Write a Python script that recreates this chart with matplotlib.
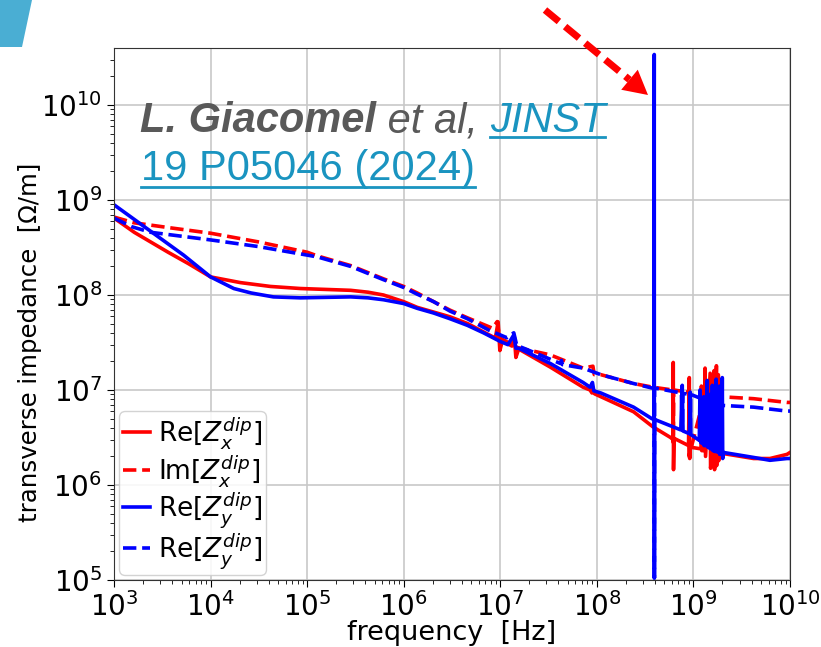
import matplotlib
matplotlib.use("Agg")
import matplotlib.pyplot as plt
from matplotlib.lines import Line2D
from matplotlib.patches import Polygon
from matplotlib.transforms import IdentityTransform
import numpy as np

# ---------------- data ----------------
re_x_f = [1e3, 1.62e3, 3.63e3, 5.89e3, 1e4, 2.04e4, 4.17e4, 8.51e4, 2.82e5, 4.27e5, 6.17e5,
          1e6, 1.38e6, 2.04e6, 3.02e6, 4.57e6, 8.5e6, 8.9e6,
          9.5e6, 9.9e6, 1.05e7, 1.32e7, 1.4e7, 1.45e7, 1.55e7, 3.3e7, 7.2e7, 8.5e7, 8.9e7,
          9.1e7, 9.5e7, 1.1e8, 2.4e8, 3.8e8, 5.8e8, 6.15e8, 6.18e8, 6.22e8, 6.3e8, 8.9e8,
          9.06e8, 9.15e8, 9.3e8, 1.2e9, 1.21e9, 1.22e9, 1.31e9, 1.32e9, 1.335e9, 1.49e9,
          1.505e9, 1.57e9, 1.58e9, 1.64e9, 1.655e9, 1.73e9, 1.74e9,
          1.81e9, 1.825e9, 1.94e9, 1.955e9, 2.05e9, 4.2e9, 6.2e9, 9.3e9, 1e10]
re_x_z = [6.46e8, 4.57e8, 2.82e8, 2.14e8, 1.55e8, 1.35e8, 1.23e8, 1.17e8, 1.12e8, 1.07e8, 1.0e8,
          8.51e7, 7.41e7, 6.61e7, 5.89e7, 5.01e7, 3.6e7, 3.55e7,
          5.2e7, 2.6e7, 3.3e7, 2.9e7, 3.6e7, 2.2e7, 2.7e7, 1.74e7, 1.07e7, 1.0e7, 9.3e6,
          1.05e7, 9.1e6, 8.5e6, 5.9e6, 4.1e6, 3.16e6, 3.0e6, 1.95e7, 1.45e6, 3.1e6, 2.6e6,
          1.35e7, 1.9e6, 2.5e6, 2.4e6, 1.1e7, 2.3e6, 2.3e6, 1.7e7, 2.0e6, 1.5e7,
          1.5e6, 2.2e6, 1.2e7, 1.6e7, 1.45e6, 1.8e7, 1.6e6,
          1.45e7, 1.8e6, 1.26e7, 2.15e6, 2.14e6, 1.9e6, 1.9e6, 2.1e6, 2.2e6]

im_x_f = [1e3, 1.62e3, 3.63e3, 1e4, 3.09e4, 1e5, 1.29e5, 2.82e5, 6.17e5, 1e6, 1.38e6, 2.04e6,
          3.02e6, 4.57e6, 8.3e6, 9.3e6, 9.8e6,
          1.5e7, 3.3e7, 7.2e7, 9.1e7, 9.4e7, 1.1e8, 2.4e8, 3.8e8, 6.1e8, 6.18e8, 6.25e8,
          8.7e8, 8.95e8, 9.0e8, 1.31e9, 1.32e9, 1.335e9, 1.6e9, 1.61e9, 1.625e9, 1.8e9, 1.81e9,
          1.82e9, 1.9e9, 4.2e9, 9.3e9, 1e10]
im_x_z = [6.61e8, 5.75e8, 5.13e8, 4.47e8, 3.63e8, 2.82e8, 2.57e8, 2.04e8, 1.48e8, 1.23e8, 1.05e8, 8.51e7,
          6.92e7, 5.75e7, 4.47e7, 5.25e7, 3.55e7,
          2.8e7, 2.34e7, 1.7e7, 1.78e7, 1.45e7, 1.45e7, 1.17e7, 1.07e7, 1.0e7, 2.8e6, 1.0e7,
          9.5e6, 9.4e6, 2.0e6, 9.0e6, 2.5e6, 9.0e6, 8.7e6, 2.2e6, 8.7e6, 8.6e6, 2.4e6,
          8.6e6, 8.5e6, 8.1e6, 7.4e6, 7.4e6]

re_y_f = [1e3, 2.4e3, 5.25e3, 1e4, 1.74e4, 2.63e4, 4.47e4, 8.51e4, 2.82e5, 4.27e5, 6.17e5,
          1e6, 1.38e6, 2.04e6, 3.02e6, 4.57e6, 6.76e6, 1e7, 1.2e7,
          1.38e7, 1.45e7, 1.55e7, 3.3e7, 7.2e7, 8.5e7, 9.0e7, 9.3e7, 1.1e8, 2.4e8, 3.7e8,
          3.9e8, 3.93e8, 3.94e8, 3.96e8, 7.4e8, 7.66e8, 7.8e8, 9.1e8, 9.27e8, 9.4e8,
          1.15e9, 1.17e9, 1.19e9, 1.27e9, 1.28e9, 1.29e9, 1.38e9, 1.39e9, 1.41e9,
          1.48e9, 1.49e9, 1.5e9, 1.55e9, 1.57e9, 1.59e9, 1.65e9, 1.66e9, 1.67e9,
          1.71e9, 1.72e9, 1.74e9, 1.85e9, 1.86e9, 1.87e9, 1.97e9, 1.99e9, 2.01e9, 2.05e9,
          4.2e9, 6.2e9, 9.3e9, 1e10]
re_y_z = [8.91e8, 4.68e8, 2.63e8, 1.55e8, 1.17e8, 1.05e8, 9.55e7, 9.33e7, 9.55e7, 9.33e7, 8.91e7,
          8.13e7, 7.24e7, 6.46e7, 5.62e7, 4.79e7, 3.98e7, 3.24e7, 3.0e7,
          3.8e7, 2.75e7, 2.75e7, 1.9e7, 1.2e7, 1.07e7, 1.2e7, 9.8e6, 9.3e6, 6.6e6, 5.0e6,
          4.9e6, 3.4e10, 1.05e5, 4.9e6, 3.8e6, 1.12e7, 3.7e6, 3.47e6, 9.5e6, 3.4e6,
          2.95e6, 1.0e7, 2.8e6, 2.7e6, 8.5e6, 2.6e6, 2.6e6, 1.26e7, 2.5e6,
          2.45e6, 9.0e6, 2.4e6, 2.4e6, 1.12e7, 2.3e6, 2.3e6, 1.0e7, 2.25e6,
          2.3e6, 1.3e7, 2.24e6, 2.2e6, 1.1e7, 2.1e6, 2.2e6, 1.35e7, 1.9e6, 2.2e6,
          1.95e6, 1.82e6, 1.9e6, 1.9e6]

im_y_f = [1e3, 1.51e3, 2.4e3, 1e4, 3.09e4, 1e5, 1.29e5, 2.82e5, 6.17e5, 1e6, 1.38e6, 2.04e6,
          3.02e6, 4.57e6, 7.6e6, 1.17e7, 1.38e7,
          1.48e7, 2.2e7, 4.2e7, 4.3e7, 4.4e7, 7.2e7, 1.1e8, 2.4e8, 3.7e8, 3.92e8, 3.94e8,
          3.96e8, 7.5e8, 7.66e8, 7.8e8, 9.2e8, 9.27e8, 9.35e8, 1.25e9, 1.27e9, 1.29e9,
          1.42e9, 1.43e9, 1.44e9, 1.58e9, 1.6e9, 1.62e9, 1.76e9, 1.77e9, 1.78e9,
          1.9e9, 4.2e9, 9.3e9, 1e10]
im_y_z = [6.46e8, 5.25e8, 4.57e8, 3.8e8, 3.24e8, 2.63e8, 2.51e8, 2.0e8, 1.45e8, 1.2e8, 1.02e8, 8.51e7,
          6.76e7, 5.62e7, 4.27e7, 3.55e7, 4.0e7,
          2.95e7, 2.5e7, 1.9e7, 2.05e7, 1.85e7, 1.7e7, 1.45e7, 1.17e7, 1.05e7, 1.05e7, 1.05e5,
          1.05e7, 9.3e6, 4.0e6, 9.2e6, 9.0e6, 3.5e6, 9.0e6, 8.0e6, 3.2e6, 8.0e6,
          7.6e6, 3.0e6, 7.6e6, 7.4e6, 2.8e6, 7.4e6, 7.1e6, 2.9e6, 7.1e6,
          6.9e6, 6.6e6, 6.0e6, 6.0e6]

labels = [r'Re[$Z_x^{dip}$]', r'Im[$Z_x^{dip}$]', r'Re[$Z_y^{dip}$]', r'Re[$Z_y^{dip}$]']

# ---------------- figure ----------------
W, H = 821, 647
fig = plt.figure(figsize=(W / 100, H / 100), dpi=100)
ax = fig.add_axes([114 / W, 1 - 580 / H, (790 - 114) / W, (580 - 48) / H])

ax.plot(re_x_f, re_x_z, color='red', lw=2.6, ls='-', label=labels[0])
ax.plot(im_x_f, im_x_z, color='red', lw=2.6, ls='--', label=labels[1])
ax.plot(re_y_f, re_y_z, color='blue', lw=2.6, ls='-', label=labels[2])
ax.plot(im_y_f, im_y_z, color='blue', lw=2.6, ls='--', label=labels[3])

ax.set_xscale('log')
ax.set_yscale('log')
ax.set_xlim(1e3, 1e10)
ax.set_ylim(1e5, 3.98e10)
ax.grid(True, which='major', color='#c8c8c8', lw=1.2)
ax.tick_params(axis='both', which='major', labelsize=20, length=5)
ax.tick_params(axis='both', which='minor', length=3)
for s in ax.spines.values():
    s.set_color('#333333')

ax.set_xlabel('frequency  [Hz]', fontsize=19.5, labelpad=-1.5)
ax.set_ylabel('transverse impedance  [Ω/m]', fontsize=17.6)
ax.yaxis.set_label_coords(-0.107, 0.447)

leg = ax.legend(loc='lower left', fontsize=19, handlelength=1.0, handletextpad=0.3,
                labelspacing=0.05, borderpad=0.15, borderaxespad=0.2,
                framealpha=0.85, edgecolor='#cccccc')

# ---------------- decorations ----------------
def px(x, y):
    return (x / W, 1 - y / H)

shape = Polygon([px(0, 0), px(32, 0), px(22, 47), px(0, 47)], closed=True,
                transform=fig.transFigure, facecolor='#4aaed3', edgecolor='none')
fig.add_artist(shape)

grey = '#595959'
blue_t = '#1a94c0'
fam = 'Liberation Sans'
fig.canvas.draw()
r = fig.canvas.get_renderer()

t1 = fig.text(*px(140, 132), 'L. Giacomel', fontsize=30, fontweight='bold', style='italic',
              color=grey, family=fam, va='baseline')
x1 = t1.get_window_extent(r).x1
t2 = fig.text(x1 / W, 1 - 132 / H, ' et al, ', fontsize=30, style='italic',
              color=grey, family=fam, va='baseline')
x2 = t2.get_window_extent(r).x1
t3 = fig.text(x2 / W, 1 - 132 / H, 'JINST', fontsize=30, style='italic',
              color=blue_t, family=fam, va='baseline')
b3 = t3.get_window_extent(r)
fig.add_artist(Line2D([b3.x0, b3.x1], [H - 137, H - 137], transform=IdentityTransform(),
                      color=blue_t, lw=2.0))
t4 = fig.text(*px(141, 180), '19 P05046 (2024)', fontsize=30, color=blue_t, family=fam,
              va='baseline')
b4 = t4.get_window_extent(r)
fig.add_artist(Line2D([b4.x0, b4.x1], [H - 187, H - 187], transform=IdentityTransform(),
                      color=blue_t, lw=2.0))

# red dashed arrow
sx, sy = 545, 10
tx, ty = 648, 95
d = np.hypot(tx - sx, ty - sy)
ux, uy = (tx - sx) / d, (ty - sy) / d
hl, hw = 24, 13
bx, by = tx - hl * ux, ty - hl * uy
fig.add_artist(Line2D([sx / W, bx / W], [1 - sy / H, 1 - by / H], transform=fig.transFigure,
                      color='red', lw=5, dashes=(2.6, 1.15), solid_capstyle='butt',
                      dash_capstyle='butt'))
pxp, pyp = -uy, ux
fig.add_artist(Polygon([px(tx, ty), px(bx + hw * pxp, by + hw * pyp), px(bx - hw * pxp, by - hw * pyp)],
                       closed=True, transform=fig.transFigure, facecolor='red', edgecolor='none'))

fig.savefig('out.png', dpi=100)
